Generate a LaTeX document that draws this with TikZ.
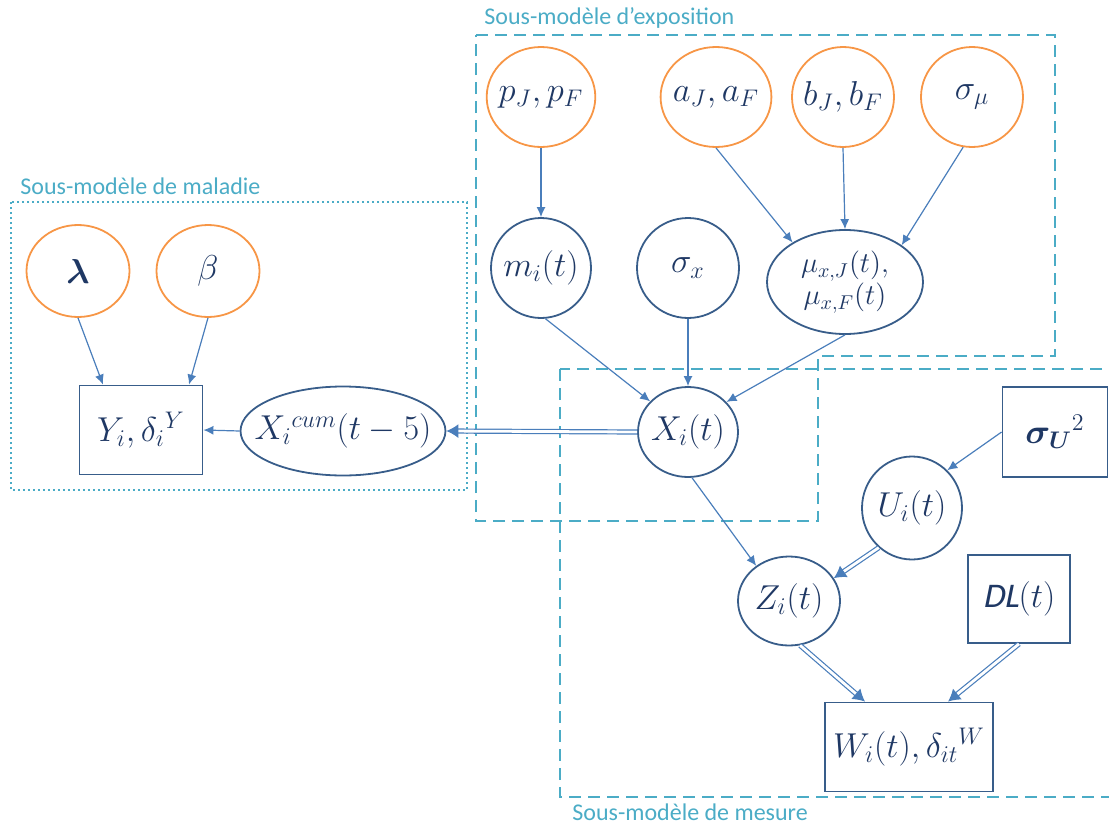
\documentclass[tikz,border=0pt]{standalone}
\usepackage{fontspec}
\usepackage{amsmath,bm}
\newfontfamily\labelfont{Carlito}
\newfontfamily\dlfont{Carlito}[FakeSlant=0.2]
\definecolor{boxteal}{HTML}{4BACC6}
\definecolor{paramorange}{HTML}{F79646}
\definecolor{nodenavy}{HTML}{385D8A}
\definecolor{arrowblue}{HTML}{4A7EBB}
\definecolor{textnavy}{HTML}{1F3864}
\usetikzlibrary{arrows.meta,shapes.geometric}

\begin{document}
\begin{tikzpicture}[x=0.5pt, y=-0.5pt, font=\LARGE,
  param/.style={ellipse, draw=paramorange, line width=0.9pt, text=textnavy, inner sep=-2pt},
  latent/.style={ellipse, draw=nodenavy, line width=0.9pt, text=textnavy, inner sep=-2pt},
  observed/.style={rectangle, draw=nodenavy, line width=0.9pt, text=textnavy},
  link/.style={arrowblue, line width=0.6pt, -{Latex[length=5pt,width=4.5pt]}},
  dlink/.style={arrowblue, line width=0.6pt, double=white, double distance=1.4pt, -{Latex[length=6pt,width=7pt]}},
  submodel/.style={boxteal, line width=1.2pt, dash pattern=on 6pt off 3.5pt},
  sublabel/.style={anchor=west, text=boxteal, font=\labelfont\fontsize{12}{14}\selectfont, inner sep=0pt}]
  \useasboundingbox (0,0) rectangle (1109,825);
  \clip (0,0) rectangle (1109,825);

  % Sub-model frames
  \draw[boxteal, line width=1.3pt, dash pattern=on 1.2pt off 1.3pt] (11,202) rectangle (467,490);
  \draw[submodel] (476,35) -- (1055,35) -- (1055,356) -- (818,356) -- (818,521) -- (476,521) -- cycle;
  \draw[submodel] (560,369) rectangle (1125,797);
  \node[sublabel] (lblmal) at (20,186) {Sous-modèle de maladie};
  \node[sublabel] (lblexp) at (484,18) {Sous-modèle d’exposition};
  \node[sublabel] (lblmes) at (572,812) {Sous-modèle de mesure};

  % Disease model
  \node[param, minimum width=51.5pt, minimum height=46pt] (lam) at (78,271) {$\bm{\lambda}$};
  \node[param, minimum width=51.5pt, minimum height=46pt] (beta) at (208,271) {$\beta$};
  \node[observed, minimum width=61.5pt, minimum height=44.5pt] (Y) at (141,430) {$Y_i,\delta_i{}^{Y}$};
  \node[latent, inner xsep=-8pt, minimum width=93.5pt, minimum height=44.5pt] (Xcum) at (343,431) {$X_i{}^{cum}(t-5)$};

  % Exposure model
  \node[param, minimum width=50pt, minimum height=50pt] (pJF) at (541,97) {$p_J,p_F$};
  \node[param, minimum width=51pt, minimum height=50pt] (aJF) at (716,97) {$a_J,a_F$};
  \node[param, minimum width=51pt, minimum height=50pt] (bJF) at (843,97) {$b_J,b_F$};
  \node[param, minimum width=51pt, minimum height=50pt] (smu) at (972,97) {$\sigma_\mu$};
  \node[latent, minimum width=50pt, minimum height=50pt] (mi) at (541,268) {$m_i(t)$};
  \node[latent, minimum width=51pt, minimum height=50pt] (sx) at (688,268) {$\sigma_x$};
  \node[latent, font=\Large, align=center, inner sep=-5pt, minimum width=78pt, minimum height=52pt] (mu) at (845,282)
    {$\mu_{x,J}(t),$\\[-2pt]$\mu_{x,F}(t)$};
  \node[latent, minimum width=50pt, minimum height=45pt] (Xi) at (688,432) {$X_i(t)$};

  % Measurement model
  \node[observed, minimum width=52.5pt, minimum height=45pt] (sU) at (1055,432) {$\bm{\sigma_U}{}^2$};
  \node[latent, minimum width=50pt, minimum height=51.5pt] (Ui) at (912,508) {$U_i(t)$};
  \node[latent, minimum width=51pt, minimum height=44.5pt] (Zi) at (789,601) {$Z_i(t)$};
  \node[observed, minimum width=51pt, minimum height=44pt] (DL) at (1019,599) {{\dlfont DL}$(t)$};
  \node[observed, minimum width=84pt, minimum height=44.5pt] (W) at (909,747) {$W_i(t),\delta_{it}{}^{W}$};

  % Links
  \draw[link] (lam.south) -- ([xshift=-19pt]Y.north);
  \draw[link] (beta.south) -- ([xshift=24pt]Y.north);
  \draw[link] (Xcum.west) -- (Y.east);
  \draw[dlink] (Xi.west) -- (Xcum.east);
  \draw[link] (pJF.south) -- (mi.north);
  \draw[link] (aJF.south) -- (mu.143);
  \draw[link] (bJF.south) -- (mu.north);
  \draw[link] (smu.260) -- (mu.33);
  \draw[link] (mi.-85) -- (Xi.141);
  \draw[link] (sx.south) -- (Xi.north);
  \draw[link] (mu.south) -- (Xi.38);
  \draw[link] (Xi.-85) -- (Zi.133);
  \draw[link] (sU.west) -- (Ui.47);
  \draw[dlink] (Ui.230) -- (Zi.27);
  \draw[dlink] (Zi.-76) -- ([xshift=-22pt]W.north);
  \draw[dlink] (DL.south) -- ([xshift=19.5pt]W.north);
\end{tikzpicture}
\end{document}
